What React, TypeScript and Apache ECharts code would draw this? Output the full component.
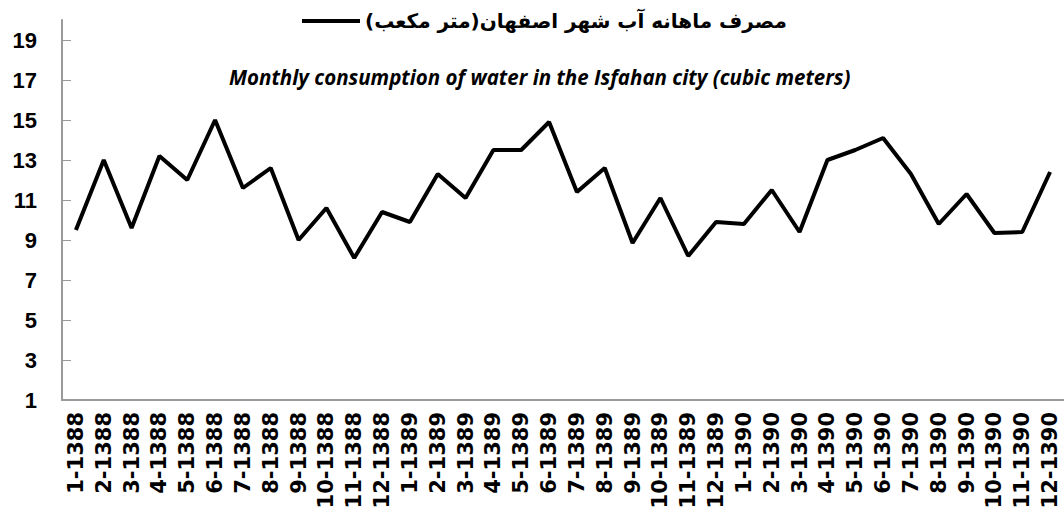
import React, { useEffect, useRef } from "react";
import * as echarts from "echarts";

const categories: string[] = [
  "1-1388", "2-1388", "3-1388", "4-1388", "5-1388", "6-1388",
  "7-1388", "8-1388", "9-1388", "10-1388", "11-1388", "12-1388",
  "1-1389", "2-1389", "3-1389", "4-1389", "5-1389", "6-1389",
  "7-1389", "8-1389", "9-1389", "10-1389", "11-1389", "12-1389",
  "1-1390", "2-1390", "3-1390", "4-1390", "5-1390", "6-1390",
  "7-1390", "8-1390", "9-1390", "10-1390", "11-1390", "12-1390",
];

const consumption: number[] = [
  9.5, 13.0, 9.6, 13.2, 12.0, 15.0, 11.6, 12.6, 9.0, 10.6, 8.1, 10.4,
  9.9, 12.3, 11.1, 13.5, 13.5, 14.9, 11.4, 12.6, 8.85, 11.1, 8.2, 9.9,
  9.8, 11.5, 9.4, 13.0, 13.5, 14.1, 12.3, 9.8, 11.3, 9.35, 9.4, 12.4,
];

const yTicks: number[] = [1, 3, 5, 7, 9, 11, 13, 15, 17, 19];

const seriesName = "مصرف ماهانه آب شهر اصفهان(متر مکعب)";
const subtitle = "Monthly consumption of water in the Isfahan city (cubic meters)";

export default function App() {
  const ref = useRef<HTMLDivElement>(null);
  useEffect(() => {
    if (!ref.current) return;
    const chart = echarts.init(ref.current, undefined, { renderer: "svg" });
    const axisGrey = "#9a9a9a";
    chart.setOption({
      animation: false,
      backgroundColor: "#ffffff",
      title: {
        text: subtitle,
        left: 224,
        top: 62,
        textStyle: {
          fontFamily: "Open Sans",
          fontStyle: "italic",
          fontWeight: "bold",
          fontSize: 20.5,
          color: "#000",
        },
      },
      legend: {
        top: 6,
        left: 297,
        icon: "rect",
        itemWidth: 58,
        itemHeight: 4,
        itemGap: 4,
        textStyle: {
          fontFamily: "DejaVu Sans",
          fontWeight: "bold",
          fontSize: 20,
          color: "#000",
        },
        data: [seriesName],
      },
      grid: { left: 62, right: 0, top: 20, bottom: 116, containLabel: false },
      xAxis: {
        type: "category",
        data: categories,
        boundaryGap: true,
        axisLine: { lineStyle: { color: axisGrey, width: 2 } },
        axisTick: { inside: true, length: 8, lineStyle: { color: axisGrey, width: 1 } },
        axisLabel: {
          rotate: 90,
          interval: 0,
          margin: 12,
          fontFamily: "DejaVu Sans",
          fontWeight: "bold",
          fontSize: 21,
          color: "#000",
        },
      },
      yAxis: {
        type: "value",
        min: 1,
        max: 20,
        interval: 2,
        splitLine: { show: false },
        axisLine: { show: true, lineStyle: { color: axisGrey, width: 2 } },
        axisTick: {
          show: true,
          inside: true,
          length: 9,
          customValues: yTicks,
          lineStyle: { color: axisGrey, width: 1 },
        },
        axisLabel: {
          customValues: yTicks,
          margin: 25,
          fontFamily: "Liberation Sans",
          fontWeight: "bold",
          fontSize: 22,
          color: "#000",
        },
      },
      series: [
        {
          name: seriesName,
          type: "line",
          data: consumption,
          symbol: "none",
          lineStyle: { color: "#000", width: 4 },
          itemStyle: { color: "#000" },
        },
      ],
    });
    return () => chart.dispose();
  }, []);
  return (
    <div
      ref={ref}
      style={{ position: "fixed", left: 0, top: 0, width: 1064, height: 516 }}
    />
  );
}
